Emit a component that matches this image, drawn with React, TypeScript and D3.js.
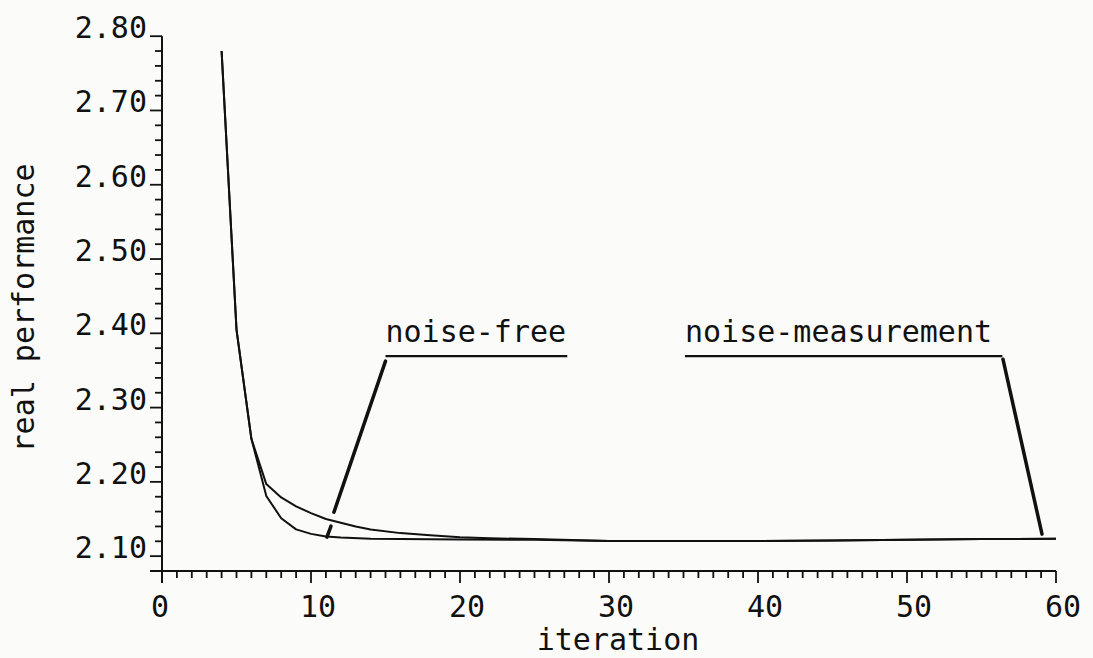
import React from 'react';
import * as d3 from 'd3';

// Real performance per iteration for the two update schemes
const iterNoiseFree = [4, 5, 6, 7, 8, 9, 10, 11, 12, 14, 16, 20, 25, 30, 35, 40, 45, 50, 55, 60];
const perfNoiseFree = [2.78, 2.405, 2.258, 2.181, 2.151, 2.136, 2.13, 2.1265, 2.125, 2.1235, 2.123, 2.1225, 2.122, 2.1205, 2.1205, 2.1205, 2.121, 2.122, 2.123, 2.1235];

const iterNoiseMeas = [4, 5, 6, 7, 8, 9, 10, 11, 12, 13, 14, 16, 18, 20, 22, 25, 30, 35, 40, 45, 50, 55, 60];
const perfNoiseMeas = [2.78, 2.405, 2.258, 2.197, 2.179, 2.167, 2.158, 2.15, 2.145, 2.14, 2.136, 2.131, 2.128, 2.1255, 2.124, 2.123, 2.1205, 2.1205, 2.1205, 2.121, 2.122, 2.123, 2.1235];

const xTickValues = [0, 10, 20, 30, 40, 50, 60];
const yTickValues = [2.8, 2.7, 2.6, 2.5, 2.4, 2.3, 2.2, 2.1];

// Curve labels: text position, underline end, and leader segments (iteration, performance)
const labelTexts = ['noise-free', 'noise-measurement'];
const labelIter = [15, 35.1];
const labelPerf = [2.388, 2.388];
const underlineEndIter = [27.2, 56.4];
const underlinePerf = 2.3692;
const leaderSegments: [number, number][][][] = [
  [
    [[15, 2.3625], [11.54, 2.1592]],
    [[11.34, 2.1404], [11.07, 2.1256]],
  ],
  [
    [[56.44, 2.3652], [59.06, 2.1296]],
  ],
];

const W = 1093;
const H = 658;
const FONT = "'DejaVu Sans Mono', 'Liberation Mono', monospace";
const INK = '#111';

export default function App() {
  const x = d3.scaleLinear().domain([0, 60]).range([162, 1056]);
  const y = d3.scaleLinear().domain([2.08, 2.8]).range([571, 36.2]);

  const line = d3
    .line<[number, number]>()
    .x((d) => x(d[0]))
    .y((d) => y(d[1]));

  const seriesFree: [number, number][] = iterNoiseFree.map((it, i) => [it, perfNoiseFree[i]]);
  const seriesMeas: [number, number][] = iterNoiseMeas.map((it, i) => [it, perfNoiseMeas[i]]);

  const xMinor = d3.range(0, 61, 1);
  const yMinor = d3.range(0, 37).map((k) => 2.08 + k * 0.02);
  const isMajorY = (v: number) => yTickValues.some((t) => Math.abs(t - v) < 1e-6);

  const axisX0 = x(0);
  const axisY0 = y(2.08);

  return (
    <svg
      width={W}
      height={H}
      viewBox={`0 0 ${W} ${H}`}
      style={{ position: 'absolute', left: 0, top: 0, background: '#fbfbfa' }}
    >
      <rect x={0} y={0} width={W} height={H} fill="#fbfbfa" />

      {/* y axis */}
      <line x1={axisX0} x2={axisX0} y1={y(2.8)} y2={axisY0 + 12} stroke={INK} strokeWidth={2} />
      {yMinor.map((v, i) => {
        const major = isMajorY(v) || i === 0;
        return (
          <line
            key={`ym${i}`}
            x1={axisX0 - (major ? 12 : 7)}
            x2={axisX0}
            y1={y(v)}
            y2={y(v)}
            stroke={INK}
            strokeWidth={1.8}
          />
        );
      })}
      {yTickValues.map((v) => (
        <text
          key={`yl${v}`}
          x={147}
          y={y(v) + 2}
          textAnchor="end"
          fontFamily={FONT}
          fontSize={30}
          fill={INK}
        >
          {v.toFixed(2)}
        </text>
      ))}

      {/* x axis */}
      <line x1={axisX0 - 12} x2={x(60)} y1={axisY0} y2={axisY0} stroke={INK} strokeWidth={2} />
      {xMinor.map((v) => {
        const major = v % 10 === 0;
        return (
          <line
            key={`xm${v}`}
            x1={x(v)}
            x2={x(v)}
            y1={axisY0}
            y2={axisY0 + (major ? 12 : 7)}
            stroke={INK}
            strokeWidth={1.8}
          />
        );
      })}
      {xTickValues.map((v) => (
        <text
          key={`xl${v}`}
          x={x(v) - 11}
          y={617}
          textAnchor="start"
          fontFamily={FONT}
          fontSize={30}
          fill={INK}
        >
          {String(v)}
        </text>
      ))}

      {/* axis titles */}
      <text x={618} y={650} textAnchor="middle" fontFamily={FONT} fontSize={30} fill={INK}>
        iteration
      </text>
      <text
        transform={`translate(34, 308) rotate(-90)`}
        textAnchor="middle"
        fontFamily={FONT}
        fontSize={30}
        fill={INK}
      >
        real performance
      </text>

      {/* curves */}
      <path d={line(seriesMeas) || ''} fill="none" stroke={INK} strokeWidth={2} strokeLinejoin="round" />
      <path d={line(seriesFree) || ''} fill="none" stroke={INK} strokeWidth={2} strokeLinejoin="round" />

      {/* curve labels with underline and leader */}
      {labelTexts.map((t, i) => (
        <g key={`lab${i}`}>
          <text
            x={x(labelIter[i])}
            y={y(labelPerf[i])}
            fontFamily={FONT}
            fontSize={30}
            fill={INK}
          >
            {t}
          </text>
          <line
            x1={x(labelIter[i])}
            x2={x(underlineEndIter[i])}
            y1={y(underlinePerf)}
            y2={y(underlinePerf)}
            stroke={INK}
            strokeWidth={2.2}
          />
          {leaderSegments[i].map((seg, j) => (
            <line
              key={`ld${i}-${j}`}
              x1={x(seg[0][0])}
              y1={y(seg[0][1])}
              x2={x(seg[1][0])}
              y2={y(seg[1][1])}
              stroke={INK}
              strokeWidth={3.5}
              strokeLinecap="round"
            />
          ))}
        </g>
      ))}
    </svg>
  );
}
